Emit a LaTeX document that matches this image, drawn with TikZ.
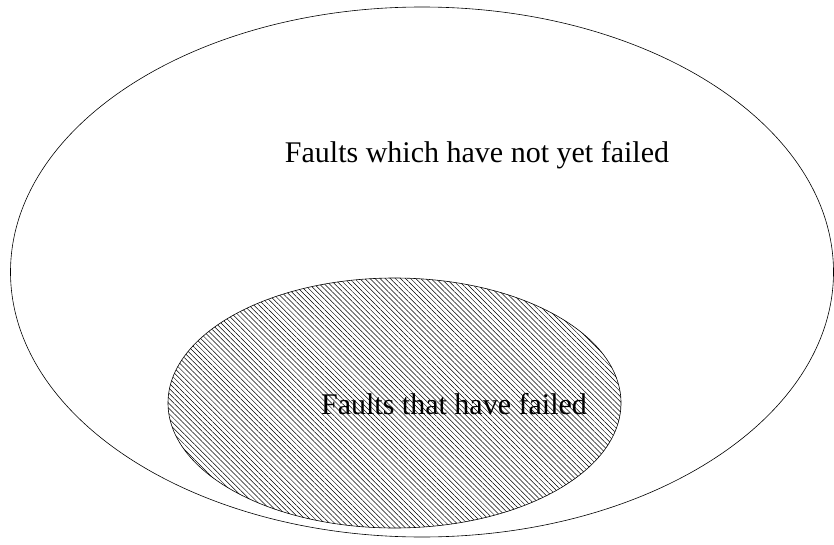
\documentclass[tikz,border=0pt]{standalone}
\usepackage{fontspec}
\setmainfont{Liberation Serif}
\usetikzlibrary{patterns.meta,shapes.geometric}
\begin{document}
\begin{tikzpicture}[x=1pt,y=-1pt,
  setline/.style={draw=black,line width=0.6pt},
  lbl/.style={font=\fontsize{30}{36}\selectfont,inner sep=0pt}]
\useasboundingbox (0,0) rectangle (834,545);
\node[setline,ellipse,minimum width=823,minimum height=530,inner sep=0pt] (outer) at (422,272) {};
\node[setline,ellipse,minimum width=453,minimum height=250,inner sep=0pt,
  pattern={Lines[angle=-45,distance=3.6pt,line width=0.5pt]}] (inner) at (394.5,403) {};
\node[lbl] (t1) at (477,155) {Faults which have not yet failed};
\node[lbl] (t2) at (454,404) {Faults that have failed};
\end{tikzpicture}
\end{document}
